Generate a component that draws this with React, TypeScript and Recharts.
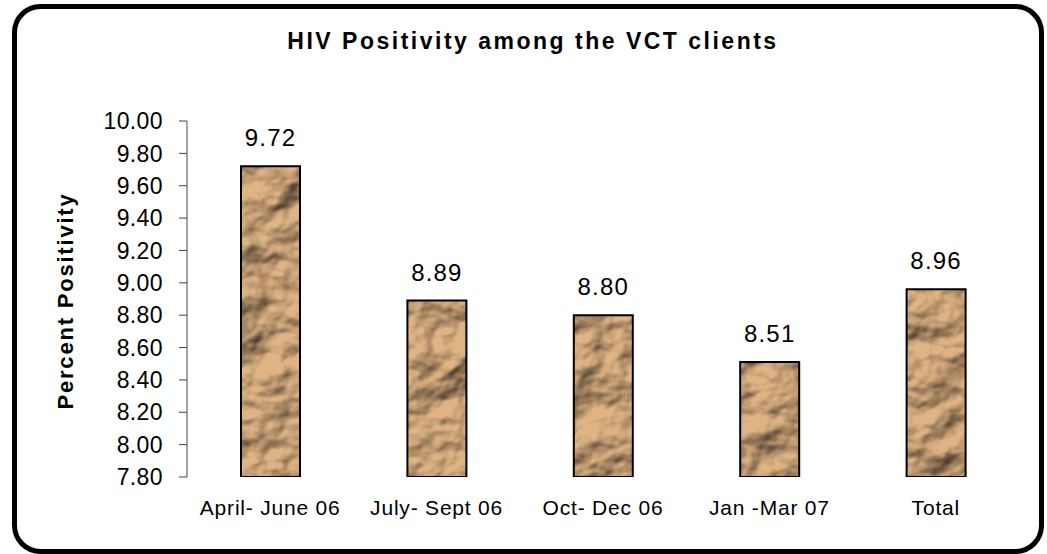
import React from 'react';
import { BarChart, Bar, XAxis, YAxis, LabelList } from 'recharts';

const categories = ['April- June 06', 'July- Sept 06', 'Oct- Dec 06', 'Jan -Mar 07', 'Total'];
const positivity = [9.72, 8.89, 8.8, 8.51, 8.96];
const yTicks = [7.8, 8.0, 8.2, 8.4, 8.6, 8.8, 9.0, 9.2, 9.4, 9.6, 9.8, 10.0];
const boundaryTicks = [0, 1, 2, 3, 4, 5];
const title = 'HIV Positivity among the VCT clients';
const yTitle = 'Percent Positivity';

const data = categories.map((c, i) => ({ name: c, value: positivity[i] }));

const FONT = '"Liberation Sans", Arial, sans-serif';

const W = 1047;
const H = 554;

export default function App() {
  return (
    <div style={{ position: 'absolute', left: 0, top: 0, width: W, height: H, background: '#fff' }}>
      <BarChart
        width={W}
        height={H}
        data={data}
        margin={{ top: 121, right: 28, bottom: 0, left: 0 }}
        barSize={59}
      >
        <defs>
          <filter id="paperFx" x="0" y="0" width="100%" height="100%" colorInterpolationFilters="sRGB">
            <feTurbulence type="fractalNoise" baseFrequency="0.02 0.026" numOctaves={4} seed={11} result="n" />
            <feGaussianBlur in="n" stdDeviation={1.6} result="nb" />
            <feDiffuseLighting in="nb" surfaceScale={10} diffuseConstant={1.08} lightingColor="#ffffff" result="l">
              <feDistantLight azimuth={235} elevation={55} />
            </feDiffuseLighting>
            <feFlood floodColor="#dfb383" result="base" />
            <feBlend in="l" in2="base" mode="multiply" />
          </filter>
          <pattern id="crumple" patternUnits="userSpaceOnUse" x={0} y={0} width={W} height={H}>
            <rect x={0} y={0} width={W} height={H} fill="#c9a67b" filter="url(#paperFx)" />
          </pattern>
        </defs>
        <XAxis
          xAxisId="grid"
          type="number"
          domain={[0, 5]}
          ticks={boundaryTicks}
          height={0}
          stroke="#444"
          tickSize={6}
          tick={() => <g />}
          allowDataOverflow
        />
        <XAxis
          dataKey="name"
          height={77}
          axisLine={false}
          tickLine={false}
          tickSize={0}
          tickMargin={23}
          interval={0}
          tick={{ fontSize: 21, fill: '#000', fontFamily: FONT, letterSpacing: 0.8 }}
        />
        <YAxis
          width={187}
          domain={[7.8, 10]}
          ticks={yTicks}
          interval={0}
          allowDataOverflow
          stroke="#444"
          tickSize={8}
          tickMargin={16}
          tickFormatter={(v: number) => v.toFixed(2)}
          tick={{ fontSize: 23, fill: '#000', fontFamily: FONT, letterSpacing: 0.4 }}
        />
        <Bar dataKey="value" fill="url(#crumple)" stroke="#000" strokeWidth={2} isAnimationActive={false}>
          <LabelList
            dataKey="value"
            position="top"
            offset={20}
            formatter={(v: number) => v.toFixed(2)}
            style={{ fontSize: 24, fill: '#000', fontFamily: FONT, letterSpacing: 1.2 }}
          />
        </Bar>
      </BarChart>
      <svg
        width={W}
        height={H}
        style={{ position: 'absolute', left: 0, top: 0, pointerEvents: 'none' }}
      >
        <rect x={14.5} y={6.5} width={1027} height={545} rx={26} ry={26} fill="none" stroke="#000" strokeWidth={5} />
        <text
          x={533}
          y={49}
          textAnchor="middle"
          fontFamily={FONT}
          fontWeight="bold"
          fontSize={23}
          letterSpacing={2.5}
          fill="#000"
        >
          {title}
        </text>
        <text
          x={73}
          y={301}
          transform="rotate(-90 73 301)"
          textAnchor="middle"
          fontFamily={FONT}
          fontWeight="bold"
          fontSize={22}
          letterSpacing={1.8}
          fill="#000"
        >
          {yTitle}
        </text>
      </svg>
    </div>
  );
}
